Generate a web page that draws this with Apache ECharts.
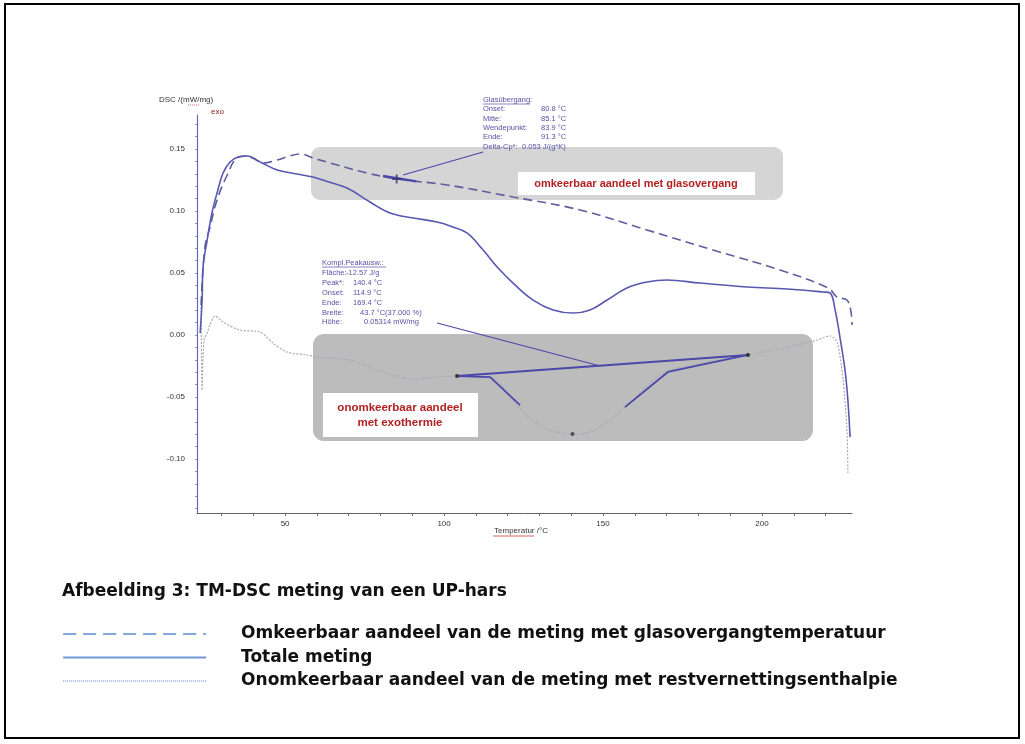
<!DOCTYPE html>
<html>
<head>
<meta charset="utf-8">
<script src="https://cdn.jsdelivr.net/npm/echarts@6/dist/echarts.min.js"></script>
<style>
  html, body { margin: 0; padding: 0; background: #fff; }
  #chart { width: 1025px; height: 744px; }
</style>
</head>
<body>
<div id="chart"></div>
<script>
// ---- TM-DSC data: [temperature °C, DSC mW/mg] ----
const seriesNames = [
  'Omkeerbaar aandeel van de meting met glasovergangtemperatuur',
  'Totale meting',
  'Onomkeerbaar aandeel van de meting met restvernettingsenthalpie'
];

// reversing heat flow (dashed)
const reversing = [
  [23.6, 0.0242], [24.8, 0.0710], [26.4, 0.0871], [28.6, 0.1089], [31.8, 0.1290],
  [34.9, 0.1427], [38.1, 0.1444], [39.9, 0.1427], [43.1, 0.1387], [47.5, 0.1411],
  [51.6, 0.1444], [54.7, 0.1460], [58.8, 0.1427], [66.4, 0.1371], [75.8, 0.1306],
  [85.1, 0.1258], [100.9, 0.1210], [121.7, 0.1113], [142.8, 0.1008], [163.8, 0.0847],
  [184.6, 0.0685], [205.7, 0.0524], [220.8, 0.0379], [223.6, 0.0306], [226.7, 0.0282],
  [228.0, 0.0185], [228.3, 0.0081]
];

// total heat flow (solid)
const total = [
  [23.3, 0.0016], [23.9, 0.0282], [24.2, 0.0548], [25.5, 0.0766], [27.0, 0.0984],
  [28.6, 0.1145], [30.5, 0.1306], [32.7, 0.1395], [35.2, 0.1435], [38.1, 0.1444],
  [39.9, 0.1427], [42.8, 0.1387], [47.5, 0.1331], [53.8, 0.1298], [58.8, 0.1274],
  [63.0, 0.1240], [69.5, 0.1185], [76.7, 0.1073], [83.0, 0.0984], [90.3, 0.0944],
  [97.8, 0.0911], [102.8, 0.0871], [107.2, 0.0823], [112.3, 0.0685], [116.7, 0.0548],
  [121.7, 0.0419], [128.0, 0.0282], [134.3, 0.0202], [140.6, 0.0177], [145.9, 0.0202],
  [151.3, 0.0282], [157.5, 0.0379], [163.8, 0.0427], [170.1, 0.0444], [180.5, 0.0419],
  [195.3, 0.0387], [207.9, 0.0371], [219.2, 0.0347], [221.4, 0.0339], [223.0, 0.0202],
  [224.5, -0.0016], [226.1, -0.0282], [227.0, -0.0524], [227.7, -0.0823]
];

// non-reversing heat flow (dotted)
const nonReversing = [
  [23.6, 0.0282], [23.9, -0.0444], [24.5, -0.0040], [25.5, 0.0016], [26.4, 0.0081],
  [28.0, 0.0153], [30.5, 0.0105], [35.8, 0.0040], [42.1, 0.0024], [46.2, -0.0065],
  [50.6, -0.0137], [56.9, -0.0161], [60.1, -0.0177], [70.4, -0.0202], [80.8, -0.0298],
  [90.3, -0.0355], [97.8, -0.0339], [104.1, -0.0331], [115.4, -0.0347], [120.8, -0.0500],
  [124.8, -0.0621], [131.1, -0.0742], [136.5, -0.0790], [140.4, -0.0798], [145.9, -0.0782],
  [152.2, -0.0685], [157.5, -0.0565], [162.6, -0.0444], [168.9, -0.0306], [175.2, -0.0258],
  [185.8, -0.0202], [195.6, -0.0161], [206.6, -0.0105], [217.3, -0.0040], [221.4, -0.0008],
  [223.6, -0.0056], [225.5, -0.0363], [226.7, -0.0766], [227.0, -0.1113]
];

// axis ticks and labels
const xLabelValues = [50, 100, 150, 200];
const xTickValues = [30, 40, 50, 60, 70, 80, 90, 100, 110, 120, 130, 140, 150, 160, 170, 180, 190, 200, 210, 220];
const yLabelValues = [-0.10, -0.05, 0.00, 0.05, 0.10, 0.15];
const yTickValues = [-0.14, -0.13, -0.12, -0.11, -0.10, -0.09, -0.08, -0.07, -0.06, -0.05, -0.04, -0.03, -0.02, -0.01,
  0.00, 0.01, 0.02, 0.03, 0.04, 0.05, 0.06, 0.07, 0.08, 0.09, 0.10, 0.11, 0.12, 0.13, 0.14, 0.15, 0.16, 0.17];

// glass transition evaluation
const glassLines = [
  ['Glasübergang:', ''],
  ['Onset:', '80.8 °C'],
  ['Mitte:', '85.1 °C'],
  ['Wendepunkt:', '83.9 °C'],
  ['Ende:', '91.3 °C'],
  ['Delta-Cp*:', '0.053 J/(g*K)']
];
const glassMid = [[85.1, 0.1258]];
const glassStep = [[80.8, 0.1282], [91.3, 0.1239]];
const glassLeader = [[112.3, 0.1476], [87.1, 0.1290]];

// complex peak evaluation
const peakLines = [
  ['Kompl.Peakausw.:', ''],
  ['Fläche:', '-12.57 J/g'],
  ['Peak*:', '140.4 °C'],
  ['Onset:', '114.9 °C'],
  ['Ende:', '169.4 °C'],
  ['Breite:', '43.7 °C(37.000 %)'],
  ['Höhe:', '0.05314 mW/mg']
];
const peakBaseline = [[104.1, -0.0331], [195.6, -0.0161]];
const peakLeft = [[104.1, -0.0331], [114.5, -0.0340], [123.9, -0.0565]];
const peakRight = [[156.9, -0.0581], [170.4, -0.0298], [195.6, -0.0161]];
const peakMin = [[140.4, -0.0798]];
const peakLeader = [[97.8, 0.0097], [149.1, -0.0250]];

const boxLabels = ['omkeerbaar aandeel met glasovergang', 'onomkeerbaar aandeel\nmet exothermie'];
const caption = 'Afbeelding 3: TM-DSC meting van een UP-hars';

// ---- drawing ----
const chart = echarts.init(document.getElementById('chart'), null, { renderer: 'canvas' });

const annoColor = '#4a48a8';
const textColor = '#5a50a8';
const smallFont = 'Liberation Sans, Arial, sans-serif';
const bigFont = 'DejaVu Sans, sans-serif';

const graphics = [
  // outer frame
  { type: 'rect', shape: { x: 5, y: 4, width: 1014, height: 734 },
    style: { fill: 'none', stroke: '#000', lineWidth: 2 }, z: 0 },
  // shaded evaluation boxes
  { type: 'rect', shape: { x: 311, y: 147, width: 472, height: 53, r: 9 },
    style: { fill: '#d5d5d5' }, z: 0 },
  { type: 'rect', shape: { x: 518, y: 172, width: 237, height: 23 },
    style: { fill: '#fff' }, z: 0 },
  { type: 'text', x: 636, y: 184, z: 1,
    style: { text: boxLabels[0], fill: '#b22222', font: 'bold 11px ' + smallFont,
      align: 'center', verticalAlign: 'middle' } },
  { type: 'rect', shape: { x: 313, y: 334, width: 500, height: 107, r: 11 },
    style: { fill: '#bcbcbc' }, z: 0 },
  { type: 'rect', shape: { x: 323, y: 393, width: 155, height: 44 },
    style: { fill: '#fff' }, z: 0 },
  { type: 'text', x: 400, y: 415, z: 1,
    style: { text: boxLabels[1], fill: '#b22222', font: 'bold 11.5px ' + smallFont,
      align: 'center', verticalAlign: 'middle', lineHeight: 15 } },
  // axis titles
  { type: 'text', x: 159, y: 100, z: 1,
    style: { text: 'DSC /(mW/mg)', fill: '#333', font: '8px ' + smallFont, verticalAlign: 'middle' } },
  { type: 'line', shape: { x1: 188, y1: 105, x2: 200, y2: 105 },
    style: { stroke: '#c04040', lineWidth: 0.8, lineDash: [1, 1] }, z: 1 },
  { type: 'text', x: 211, y: 112, z: 1,
    style: { text: 'exo', fill: '#8a2020', font: '8px ' + smallFont, verticalAlign: 'middle' } },
  { type: 'text', x: 521, y: 531, z: 1,
    style: { text: 'Temperatur /°C', fill: '#333', font: '8px ' + smallFont,
      align: 'center', verticalAlign: 'middle' } },
  { type: 'line', shape: { x1: 493, y1: 536, x2: 534, y2: 536 },
    style: { stroke: '#c04040', lineWidth: 0.8 }, z: 1 },
  // caption
  { type: 'text', x: 62, y: 592, z: 1,
    style: { text: caption, fill: '#111', font: 'bold 17px ' + bigFont, verticalAlign: 'middle' } }
];

// evaluation text blocks
glassLines.forEach((row, i) => {
  const y = 100 + i * 9.3;
  graphics.push({ type: 'text', x: 483, y: y, z: 3,
    style: { text: row[0], fill: textColor, font: '7.5px ' + smallFont, verticalAlign: 'middle' } });
  if (row[1]) {
    graphics.push({ type: 'text', x: i === 5 ? 522 : 541, y: y, z: 3,
      style: { text: row[1], fill: textColor, font: '7.5px ' + smallFont, verticalAlign: 'middle' } });
  }
});
graphics.push({ type: 'line', shape: { x1: 483, y1: 104, x2: 530, y2: 104 },
  style: { stroke: textColor, lineWidth: 0.7 }, z: 3 });

const peakValueX = [0, 346, 353, 353, 353, 360, 364];
peakLines.forEach((row, i) => {
  const y = 263 + i * 9.9;
  graphics.push({ type: 'text', x: 322, y: y, z: 3,
    style: { text: row[0], fill: textColor, font: '7.5px ' + smallFont, verticalAlign: 'middle' } });
  if (row[1]) {
    graphics.push({ type: 'text', x: peakValueX[i], y: y, z: 3,
      style: { text: row[1], fill: textColor, font: '7.5px ' + smallFont, verticalAlign: 'middle' } });
  }
});
graphics.push({ type: 'line', shape: { x1: 322, y1: 267, x2: 386, y2: 267 },
  style: { stroke: textColor, lineWidth: 0.7 }, z: 3 });

const annoLine = (data, width, extra) => Object.assign({
  type: 'line', data: data, symbol: 'none', z: 6, silent: true,
  lineStyle: { color: annoColor, width: width }
}, extra || {});

const hiddenSymbol = { opacity: 0, borderWidth: 0 };

const option = {
  animation: false,
  backgroundColor: '#fff',
  grid: { left: 197, right: 173, top: 115, bottom: 231, containLabel: false },
  xAxis: {
    type: 'value', min: 22.3, max: 228.3,
    axisLine: { show: true, onZero: false, lineStyle: { color: '#666', width: 1 } },
    axisTick: { show: true, customValues: xTickValues, length: 3, lineStyle: { color: '#666' } },
    axisLabel: { customValues: xLabelValues, color: '#333', fontSize: 8, margin: 7,
      fontFamily: smallFont },
    splitLine: { show: false }
  },
  yAxis: {
    type: 'value', min: -0.1435, max: 0.1774,
    axisLine: { show: true, onZero: false, lineStyle: { color: '#6a6ab8', width: 1.2 } },
    axisTick: { show: true, customValues: yTickValues, length: 2, lineStyle: { color: '#8a8ac8' } },
    axisLabel: { customValues: yLabelValues, color: '#333', fontSize: 8, margin: 12,
      fontFamily: smallFont, formatter: v => v.toFixed(2) },
    splitLine: { show: false }
  },
  legend: {
    orient: 'vertical', left: 62, top: 625, padding: 0,
    itemWidth: 143, itemHeight: 14, itemGap: 5.5,
    itemStyle: hiddenSymbol,
    textStyle: { fontSize: 17, fontWeight: 'bold', color: '#111', fontFamily: bigFont,
      lineHeight: 18, padding: [0, 0, 0, 30] },
    data: [
      { name: seriesNames[0], itemStyle: hiddenSymbol,
        lineStyle: { color: '#84a8dc', width: 2.2, type: [13, 7] } },
      { name: seriesNames[1], itemStyle: hiddenSymbol,
        lineStyle: { color: '#7198d6', width: 2.2, type: 'solid' } },
      { name: seriesNames[2], itemStyle: hiddenSymbol,
        lineStyle: { color: '#a9c0e8', width: 2, type: [1, 1] } }
    ]
  },
  graphic: { elements: graphics },
  series: [
    { name: seriesNames[0], type: 'line', data: reversing, symbol: 'none', smooth: 0.4, z: 4,
      lineStyle: { color: '#5e5e9e', width: 1.6, type: [9, 5] } },
    { name: seriesNames[1], type: 'line', data: total, symbol: 'none', smooth: 0.4, z: 4,
      lineStyle: { color: '#5858b0', width: 1.6 } },
    { name: seriesNames[2], type: 'line', data: nonReversing, symbol: 'none', smooth: 0.3, z: 3,
      lineStyle: { color: '#a8a8b8', width: 1.2, type: [2, 1.5] } },
    // glass transition evaluation marks
    annoLine(glassStep, 2.4),
    annoLine(glassLeader, 1.2),
    { type: 'scatter', data: glassMid, z: 7, silent: true, symbolSize: 9,
      symbol: 'path://M4,0h2v10h-2zM0,4h10v2h-10z', itemStyle: { color: '#33336e' } },
    // peak evaluation marks
    annoLine(peakBaseline, 2, { symbol: 'circle', symbolSize: 4, showSymbol: true,
      itemStyle: { color: '#333' } }),
    annoLine(peakLeft, 1.8),
    annoLine(peakRight, 1.8),
    annoLine(peakLeader, 1.2),
    { type: 'scatter', data: peakMin, z: 7, silent: true, symbolSize: 4, itemStyle: { color: '#333' } }
  ]
};

chart.setOption(option);
</script>
</body>
</html>
